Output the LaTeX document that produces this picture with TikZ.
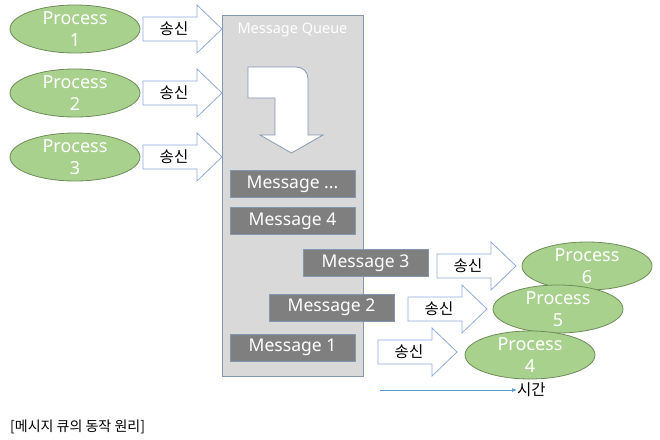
\documentclass[tikz,border=0pt]{standalone}
\usepackage{fontspec}
\setmainfont{Noto Sans}
\newfontfamily\kr{Noto Sans CJK KR}
\usetikzlibrary{shapes.geometric,arrows.meta}

\definecolor{procfill}{HTML}{A9D18E}
\definecolor{procline}{HTML}{6E8C57}
\definecolor{arrline}{HTML}{8FAADC}
\definecolor{queuefill}{HTML}{D9D9D9}
\definecolor{queueline}{HTML}{8497B0}
\definecolor{msgfill}{HTML}{7F7F7F}
\definecolor{timeline}{HTML}{5B9BD5}

\tikzset{
  proc/.style={ellipse,draw=procline,fill=procfill,line width=0.8pt,
    minimum width=130pt,minimum height=48pt,inner sep=0pt},
  proctext/.style={text=white,align=center,inner sep=0pt,
    font=\fontsize{18}{22}\selectfont},
  msg/.style={rectangle,draw=queueline,fill=msgfill,text=white,line width=0.8pt,
    minimum width=125pt,minimum height=27pt,inner sep=0pt,
    font=\fontsize{17.5}{22}\selectfont},
  queue/.style={rectangle,draw=queueline,fill=queuefill,line width=0.8pt,
    minimum width=141pt,minimum height=361pt,inner sep=0pt},
  krtext/.style={font=\kr\fontsize{15.5}{18}\selectfont,inner sep=0pt},
  sendarrow/.pic={
    \draw[draw=arrline,fill=white,line width=0.8pt] (0,-12) -- (54,-12) -- (54,-24)
      -- (79,0) -- (54,24) -- (54,12) -- (0,12) -- cycle;
    \node[krtext] (-label) at (31,0) {송신};
  }
}

\begin{document}
\begin{tikzpicture}[x=1pt,y=-1pt]
  \useasboundingbox (0,0) rectangle (660,439);
  % the queue
  \node[queue] (q) at (292.5,195.5) {};
  \node[text=white,inner sep=0pt,font=\fontsize{14.5}{17}\selectfont] (qt) at (292.5,30) {Message Queue};
  \draw[draw=queueline,fill=white,line width=0.8pt] (248,98) -- (248,67) -- (296,67)
    .. controls (303,67) and (308,72) .. (308,79) -- (308,135) -- (323,135)
    -- (291.5,153) -- (260,135) -- (275,135) -- (275,98) -- cycle;
  \node[msg] (mdots) at (292.5,184) {Message ...};
  \node[msg] (m4) at (292.5,221) {Message 4};
  \node[msg] (m3) at (365.5,263) {Message 3};
  \node[msg] (m2) at (331.5,307.5) {Message 2};
  \node[msg] (m1) at (292.5,347.5) {Message 1};
  % senders
  \node[proc] (p1) at (75,29) {};
  \node[proctext] (p1t) at (p1) {Process\\1};
  \node[proc] (p2) at (75,93) {};
  \node[proctext] (p2t) at (p2) {Process\\2};
  \node[proc] (p3) at (75,157) {};
  \node[proctext] (p3t) at (p3) {Process\\3};
  \pic (s1) at (143,29) {sendarrow};
  \pic (s2) at (143,93) {sendarrow};
  \pic (s3) at (143,157) {sendarrow};
  % receivers
  \pic (r3) at (437,266) {sendarrow};
  \pic (r2) at (408,309) {sendarrow};
  \pic (r1) at (378,352) {sendarrow};
  \node[proc] (p6) at (587,266) {};
  \node[proctext] (p6t) at (p6) {Process\\6};
  \node[proc] (p5) at (558,309) {};
  \node[proctext] (p5t) at (p5) {Process\\5};
  \node[proc] (p4) at (530,355) {};
  \node[proctext] (p4t) at (p4) {Process\\4};
  % time axis
  \coordinate (t0) at (380,390);
  \node[krtext,anchor=west] (time) at (517,390) {시간};
  \draw[timeline,line width=0.6pt,-{Latex[length=5pt,width=4pt]}] (t0) -- (time.west);
  \node[font=\kr\fontsize{14}{16}\selectfont,inner sep=0pt,anchor=west] (cap) at (10,427) {[메시지 큐의 동작 원리]};
\end{tikzpicture}
\end{document}
